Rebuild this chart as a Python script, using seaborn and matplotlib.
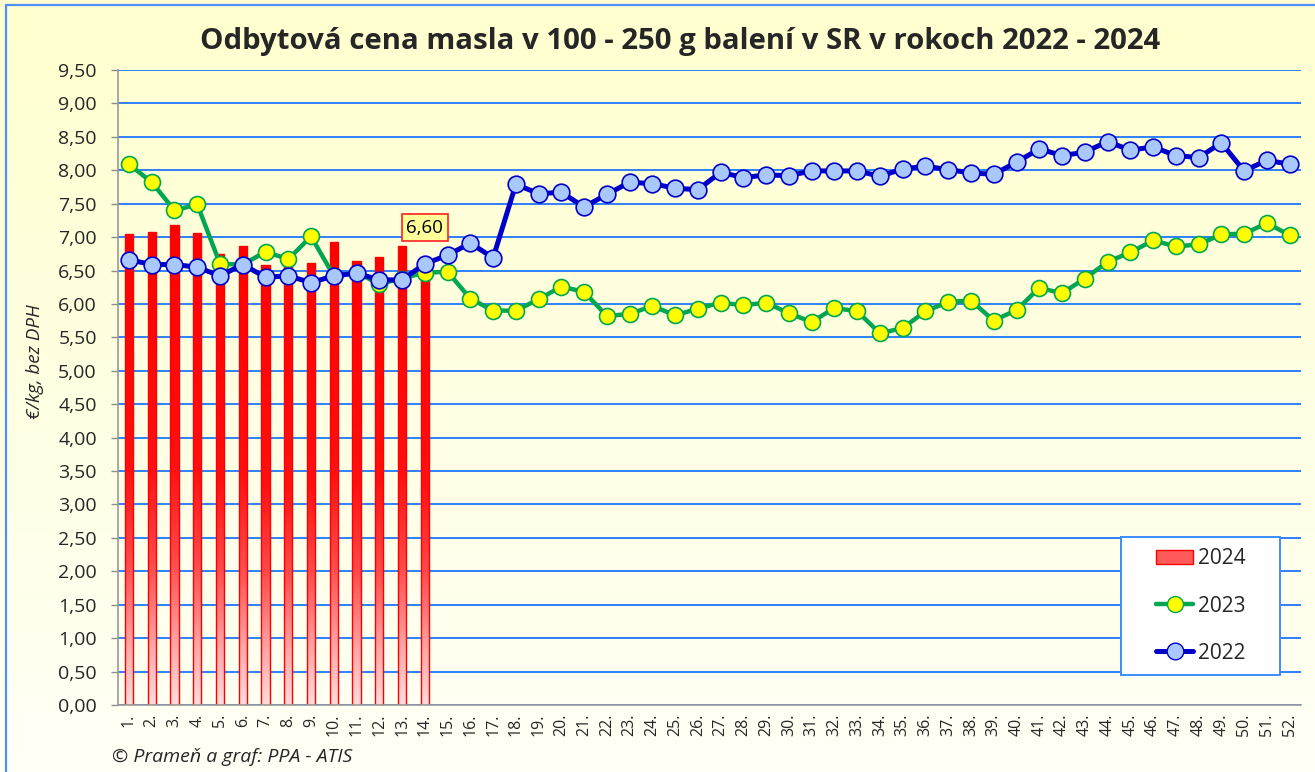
import numpy as np
import pandas as pd
import matplotlib
matplotlib.use("Agg")
import matplotlib.pyplot as plt
import seaborn as sns
from matplotlib.colors import LinearSegmentedColormap
from matplotlib.lines import Line2D
from matplotlib.patches import Patch, Rectangle

# ---------------- data ----------------
week_labels = [f"{i}." for i in range(1, 53)]

price_2024 = [7.04, 7.07, 7.18, 7.06, 6.75, 6.87, 6.58, 6.61, 6.61, 6.93,
              6.64, 6.70, 6.87, 6.60]

price_2023 = [8.09, 7.82, 7.40, 7.49, 6.60, 6.59, 6.78, 6.67, 7.01, 6.42,
              6.47, 6.30, 6.38, 6.47, 6.48, 6.08, 5.90, 5.90, 6.07, 6.26,
              6.18, 5.82, 5.85, 5.97, 5.83, 5.93, 6.02, 5.98, 6.02, 5.86,
              5.73, 5.94, 5.89, 5.56, 5.64, 5.89, 6.03, 6.05, 5.75, 5.91,
              6.24, 6.16, 6.38, 6.63, 6.77, 6.95, 6.86, 6.89, 7.04, 7.05,
              7.21, 7.03]

price_2022 = [6.66, 6.59, 6.59, 6.55, 6.42, 6.59, 6.40, 6.42, 6.32, 6.42,
              6.46, 6.36, 6.36, 6.60, 6.73, 6.91, 6.69, 7.79, 7.65, 7.67,
              7.45, 7.64, 7.82, 7.80, 7.73, 7.71, 7.97, 7.89, 7.93, 7.92,
              7.99, 7.99, 7.99, 7.91, 8.02, 8.06, 8.01, 7.96, 7.94, 8.12,
              8.32, 8.22, 8.27, 8.43, 8.30, 8.35, 8.22, 8.19, 8.41, 7.99,
              8.15, 8.09]

series_names = ["2024", "2023", "2022"]
title_text = "Odbytová cena masla v 100 - 250 g balení v SR v rokoch 2022 - 2024"
ylabel_text = "€/kg, bez DPH"
source_text = "© Prameň a graf: PPA - ATIS"
label_2024 = "6,60"

# ---------------- figure ----------------
sns.set_theme(style="white")
plt.rcParams["font.family"] = ["Open Sans", "DejaVu Sans"]

W, H = 1315, 772
fig = plt.figure(figsize=(W / 100, H / 100), dpi=100)

# background gradient (pale yellow top -> almost white bottom)
bg = fig.add_axes([0, 0, 1, 1], zorder=-5)
bg_cmap = LinearSegmentedColormap.from_list("bg", ["#FFFFF6", "#FFFFCF"])
bg.imshow(np.linspace(0, 1, 256).reshape(-1, 1), cmap=bg_cmap, aspect="auto",
          extent=[0, 1, 0, 1], origin="lower")
bg.set_axis_off()

# outer chart border (left + top visible)
fig.add_artist(Line2D([6 / W, 6 / W], [0, 1 - 5 / H], transform=fig.transFigure,
                      color="#4F8FFF", lw=1.6))
fig.add_artist(Line2D([6 / W, 1], [1 - 5 / H, 1 - 5 / H], transform=fig.transFigure,
                      color="#4F8FFF", lw=1.6))

ax_left, ax_right, ax_top, ax_bottom = 117.6, 1301.0, 70.0, 705.0
ax_w_px, ax_h_px = ax_right - ax_left, ax_bottom - ax_top
ax = fig.add_axes([ax_left / W, (H - ax_bottom) / H, ax_w_px / W, ax_h_px / H])
ax.set_facecolor("none")

x_all = np.arange(52)
df22 = pd.DataFrame({"x": x_all, "y": price_2022})
df23 = pd.DataFrame({"x": x_all, "y": price_2023})
df24 = pd.DataFrame({"x": np.arange(len(price_2024)), "y": price_2024})

# bars 2024
sns.barplot(data=df24, x="x", y="y", native_scale=True, width=0.36,
            color="#FF0000", edgecolor="#FF0000", linewidth=1.0,
            ax=ax, zorder=2, errorbar=None)

bar_cmap = LinearSegmentedColormap.from_list(
    "bar", [(0.0, "#FFDCDC"), (0.12, "#FFA8A8"), (0.3, "#FF4A4A"),
            (0.5, "#FF1010"), (1.0, "#FF0000")])
grad = np.linspace(0, 1, 256).reshape(-1, 1)
for p in list(ax.patches):
    x0, y0 = p.get_x(), p.get_y()
    w, h = p.get_width(), p.get_height()
    im = ax.imshow(grad, cmap=bar_cmap, aspect="auto", origin="lower",
                   extent=[x0, x0 + w, y0, y0 + h], zorder=2)
    im.set_clip_path(p)
    p.set_facecolor("none")
    p.set_zorder(2.1)

# lines
sns.lineplot(data=df23, x="x", y="y", ax=ax, color="#00A651", lw=3.2,
             marker="o", markersize=11.5, markerfacecolor="#FFFF00",
             markeredgecolor="#00A651", markeredgewidth=1.2, zorder=3)
sns.lineplot(data=df22, x="x", y="y", ax=ax, color="#0000C8", lw=3.6,
             marker="o", markersize=12, markerfacecolor="#A9C8FF",
             markeredgecolor="#0000C8", markeredgewidth=1.2, zorder=4)

# annotation
ax.annotate(label_2024, xy=(len(price_2024) - 1, price_2024[-1]),
            xytext=(0, 26), textcoords="offset points", ha="center", va="center",
            fontsize=13.5, color="black", zorder=6,
            bbox=dict(boxstyle="square,pad=0.25", fc="#FFFF99", ec="#FF2020", lw=1.2))

# axes formatting
ax.set_xlim(-0.5, 51.5)
ax.set_ylim(0, 9.5)
yt = np.arange(0, 9.51, 0.5)
ax.set_yticks(yt)
ax.set_yticklabels([f"{v:.2f}".replace(".", ",") for v in yt], fontsize=14)
ax.set_xticks(x_all)
ax.set_xticklabels(week_labels, rotation=90, fontsize=11.5)
ax.set_xticks(np.arange(-0.5, 52, 1), minor=True)
ax.tick_params(axis="x", which="major", length=0, pad=6)
ax.tick_params(axis="x", which="minor", length=5, width=1, color="#8C8C8C", direction="out")
ax.tick_params(axis="y", length=5, width=1, color="#8C8C8C", direction="out", pad=10, left=True)
ax.grid(axis="y", color="#2F80FF", lw=1.4, zorder=0)
ax.set_axisbelow(True)
for s in ["top", "right"]:
    ax.spines[s].set_visible(False)
for s in ["left", "bottom"]:
    ax.spines[s].set_color("#9A9A9A")
    ax.spines[s].set_linewidth(1.2)
ax.set_xlabel("")
ax.set_ylabel(ylabel_text, fontsize=13.5, style="italic")
ax.yaxis.set_label_coords(-0.062, 0.54)

# legend: frame drawn as a separate box, entries centred in it
box_l, box_r, box_t, box_b = 1121.0, 1280.0, 537.0, 675.0
bx0 = (box_l - ax_left) / ax_w_px
by0 = (ax_bottom - box_b) / ax_h_px
bw = (box_r - box_l) / ax_w_px
bh = (box_b - box_t) / ax_h_px
ax.add_patch(Rectangle((bx0, by0), bw, bh, transform=ax.transAxes,
                       facecolor="white", edgecolor="#3B8CFF", lw=1.4,
                       zorder=9, clip_on=False))
handles = [
    Patch(facecolor="#FF5A5A", edgecolor="#FF0000", label=series_names[0]),
    Line2D([0], [0], color="#00A651", lw=3.2, marker="o", markersize=11.5,
           markerfacecolor="#FFFF00", markeredgecolor="#00A651", label=series_names[1]),
    Line2D([0], [0], color="#0000C8", lw=3.6, marker="o", markersize=12,
           markerfacecolor="#A9C8FF", markeredgecolor="#0000C8", label=series_names[2]),
]
leg = ax.legend(handles=handles, loc="center",
                bbox_to_anchor=(bx0 + bw / 2, by0 + bh / 2),
                borderaxespad=0, borderpad=0, fontsize=15, frameon=False,
                labelspacing=1.25, handlelength=1.8, handletextpad=0.2)
leg.set_zorder(10)

# title and source
fig.text(0.517, 1 - 41 / H, title_text, ha="center", va="center",
         fontsize=21.2, fontweight="bold")
fig.text(112 / W, 1 - 757 / H, source_text, ha="left", va="center",
         fontsize=14, style="italic")

fig.savefig("out.png", dpi=100)
